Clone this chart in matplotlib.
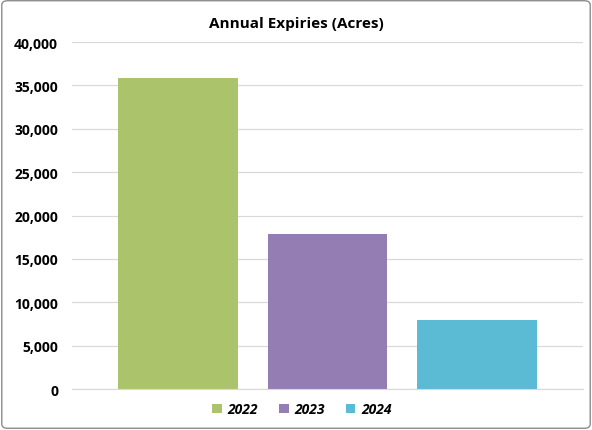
import matplotlib
matplotlib.use("Agg")
import matplotlib.pyplot as plt
from matplotlib.patches import FancyBboxPatch
from matplotlib.ticker import FuncFormatter

years = ["2022", "2023", "2024"]
values = [35900, 17850, 7950]
colors = ["#ABC46B", "#937DB3", "#5BBAD4"]

plt.rcParams['font.family'] = ['Open Sans', 'DejaVu Sans']
fig = plt.figure(figsize=(5.92, 4.31), dpi=100)
fig.patches.append(FancyBboxPatch((0.003, 0.004), 0.994, 0.992, boxstyle="round,pad=0,rounding_size=0.01",
                                  transform=fig.transFigure, fill=False, edgecolor="#8C8C8C", lw=1))
ax = fig.add_axes([0.1216, 0.0951, 0.863, 0.805])
bars = []
for i, (y, v, c) in enumerate(zip(years, values, colors)):
    bars.append(ax.bar(i, v, width=0.8, color=c, label=y, zorder=2))
ax.set_xlim(-0.707, 2.707)
ax.set_ylim(0, 40000)
ax.set_yticks(range(0, 40001, 5000))
ax.yaxis.set_major_formatter(FuncFormatter(lambda v, p: f"{int(v):,}"))
ax.grid(axis='y', color="#D9D9D9", lw=0.9, zorder=0)
ax.set_xticks([])
for s in ["top", "right", "left"]:
    ax.spines[s].set_visible(False)
ax.spines["bottom"].set_color("#D9D9D9")
ax.tick_params(axis='y', length=0, pad=10, labelsize=10)
for t in ax.get_yticklabels():
    t.set_fontweight('bold')
fig.text(0.5, 0.945, "Annual Expiries (Acres)", ha='center', va='center', fontsize=11, fontweight='bold')
fig.legend(handles=[b for b in bars], labels=years, loc='center', bbox_to_anchor=(0.51, 0.048), ncol=3,
           frameon=False, prop={'weight': 'bold', 'style': 'italic', 'size': 10},
           handlelength=0.7, handleheight=0.7, columnspacing=1.5, handletextpad=0.4)
fig.savefig("out.png", dpi=100)
